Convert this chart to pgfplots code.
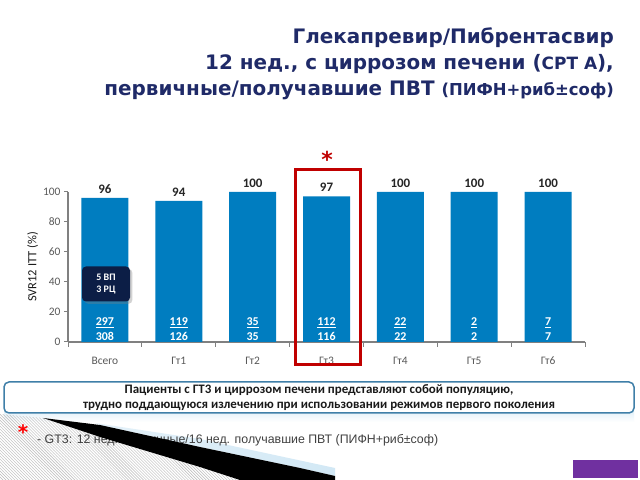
\documentclass[border=0pt]{standalone}
\usepackage{fontspec}
\setmainfont{Carlito}
\newfontfamily\titlefont{DejaVu Sans}
\newfontfamily\arialfont{Liberation Sans}
\usepackage{pgfplots}
\pgfplotsset{compat=1.18}
\usetikzlibrary{shadows,patterns}
\definecolor{barblue}{RGB}{0,125,192}
\definecolor{titlecol}{RGB}{31,42,104}
\definecolor{navybox}{RGB}{12,30,70}
\definecolor{redbox}{RGB}{192,0,0}
\definecolor{boxblue}{RGB}{63,127,168}
\definecolor{ticklab}{RGB}{89,89,89}
\definecolor{purp}{RGB}{112,48,160}
\definecolor{lblue}{RGB}{210,232,245}
\begin{document}
\begin{tikzpicture}[x=1bp,y=1bp]
\path[fill=white,use as bounding box] (0,0) rectangle (640,480);
% title
\node[anchor=base east, text=titlecol, font=\titlefont\bfseries\fontsize{20}{22}\selectfont, inner sep=0] at (614,436) {Глекапревир/Пибрентасвир};
\node[anchor=base east, text=titlecol, font=\titlefont\bfseries\fontsize{20}{22}\selectfont, inner sep=0] at (614,410) {12 нед., с циррозом печени ({\fontsize{17}{20}\selectfont CPT A}),};
\node[anchor=base east, text=titlecol, font=\titlefont\bfseries\fontsize{20}{22}\selectfont, inner sep=0] at (614,384) {первичные/получавшие ПВТ {\fontsize{16.5}{18}\selectfont (ПИФН+риб±соф)}};
\begin{axis}[
  at={(68bp,138bp)}, anchor=south west, scale only axis,
  width=517bp, height=150bp,
  xmin=-0.5, xmax=6.5, ymin=0, ymax=100,
  axis lines=left,
  axis line style={-, draw=gray, line width=1.3bp},
  tick align=outside,
  tick style={draw=gray, line width=1bp},
  major tick length=4bp, minor tick length=5bp,
  ytick={0,20,...,100},
  xtick={0,...,6},
  xticklabels={Всего,Гт1,Гт2,Гт3,Гт4,Гт5,Гт6},
  minor xtick={-0.5,0.5,...,6.5},
  major x tick style={draw=none},
  /pgf/number format/assume math mode=true,
  yticklabel style={font=\fontsize{11.5}{13}\selectfont, text=ticklab},
  xticklabel style={font=\fontsize{11.5}{13}\selectfont, text=ticklab, yshift=-7bp, text height=8bp, text depth=2bp},
  ylabel={SVR12 ITT (\%)},
  ylabel style={font=\fontsize{12.5}{14}\selectfont, text=black!90, yshift=-2bp},
  clip=false,
]
\addplot[ybar, bar width=47bp, fill=barblue, draw=none,
  nodes near coords,
  every node near coord/.append style={font=\bfseries\fontsize{13}{15}\selectfont, text=black!85, yshift=1bp}]
  coordinates {(0,96) (1,94) (2,100) (3,97) (4,100) (5,100) (6,100)};
\foreach \i/\a/\b in {0/297/308,1/119/126,2/35/35,3/112/116,4/22/22,5/2/2,6/7/7}{
  \edef\tmp{\noexpand\node[text=white, font=\noexpand\bfseries\noexpand\fontsize{12}{13}\noexpand\selectfont, inner sep=0] at (axis cs:\i,13) {\noexpand\underline{\a}};
  \noexpand\node[text=white, font=\noexpand\bfseries\noexpand\fontsize{12}{13}\noexpand\selectfont, inner sep=0] at (axis cs:\i,3.7) {\b};}
  \tmp
}
\end{axis}
% 5 VP box
\node[fill=navybox, rounded corners=4bp, minimum width=48bp, minimum height=35bp, text=white, font=\bfseries\fontsize{10}{12}\selectfont, align=center, drop shadow={opacity=0.35}] at (106,196) {5 ВП\\3 РЦ};
% red box and star
\draw[redbox, line width=3bp] (295,310) rectangle (360,115);
\node[text=redbox, font=\titlefont\bfseries\fontsize{22}{22}\selectfont, inner sep=0] at (327,321) {*};
% bottom box
\shade[top color=lblue!70, bottom color=white] (4,70) rectangle (634,58);
\draw[draw=boxblue, line width=1.5bp, rounded corners=5bp, fill=white] (4,98) rectangle (634,67);
\node[font=\bfseries\fontsize{13}{15}\selectfont, align=center, text=black!90] at (319,82.5) {Пациенты с ГТ3 и циррозом печени представляют собой популяцию,\\трудно поддающуюся излечению при использовании режимов первого поколения};
% decorative bottom-left
\fill[pattern=north west lines, pattern color=gray!55] (0,66) -- (43,62) -- (100,43) -- (200,13) -- (240,0) -- (0,0) -- cycle;
\shade[left color=lblue!60, right color=lblue] (95,57) -- (200,41) -- (335,12) -- (335,4) -- (300,12) -- (200,33) -- (100,55) -- cycle;
% footnote
\node[text=red, font=\titlefont\bfseries\fontsize{20}{20}\selectfont, inner sep=0] at (23,48) {*};
\node[anchor=base west, font=\arialfont\fontsize{12.4}{14}\selectfont, text=black!75, inner sep=0] at (37,36) {- GT3: 12 нед. первичные/16 нед. получавшие ПВТ (ПИФН+риб±соф)};
\fill[black] (43,62) -- (100,55) -- (200,33) -- (300,12) -- (335,4) -- (335,0) -- (240,0) -- (200,13) -- (100,43) -- cycle;
% purple rect
\fill[purp] (573,20) rectangle (638,2);
\end{tikzpicture}
\end{document}
